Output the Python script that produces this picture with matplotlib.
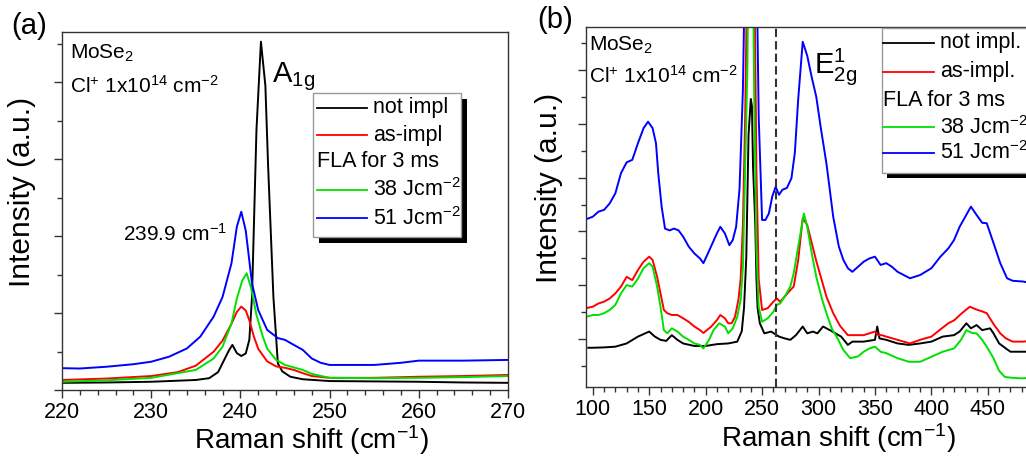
import numpy as np
import matplotlib
matplotlib.use('Agg')
import matplotlib.pyplot as plt
from matplotlib.ticker import MultipleLocator, FixedLocator
from matplotlib.patches import Rectangle

plt.rcParams['font.family'] = ['Liberation Sans', 'DejaVu Sans']
plt.rcParams['mathtext.fontset'] = 'custom'
plt.rcParams['mathtext.rm'] = 'Liberation Sans'
plt.rcParams['mathtext.it'] = 'Liberation Sans:italic'
plt.rcParams['mathtext.default'] = 'regular'

###Datos panel (a): pico A1g
xa_k = [220, 225, 230, 235, 236.5, 237.5, 238.2, 238.7, 239.1, 239.6, 240.1, 240.6, 241.0, 241.3,
        241.8, 242.3, 242.8, 243.1, 243.7, 244.2, 244.7, 245.6, 247, 250, 255, 260, 265, 270]
ya_k = [2.0, 2.1, 2.3, 2.8, 3.3, 5.0, 8.5, 11.0, 12.6, 10.3, 9.5, 10.2, 14, 26,
        72.6, 97.3, 85, 63, 26, 7.4, 5.2, 3.7, 3.0, 2.5, 2.4, 2.3, 2.1, 2.0]

xa_r = [220, 225, 230, 233, 235, 237, 238, 239, 239.6, 240.1, 240.6, 241.0, 241.5, 242, 243,
        244, 245, 246, 247, 248, 250, 255, 260, 265, 270]
ya_r = [2.8, 3.2, 3.9, 5.0, 6.8, 10.7, 13.8, 18.5, 21.8, 23.3, 22.2, 19.5, 15.0, 11.5, 8.0,
        6.6, 6.2, 5.6, 4.7, 3.9, 3.4, 3.4, 3.7, 3.9, 4.2]

xa_g = [220, 225, 230, 235, 237, 238, 239, 239.6, 240.2, 240.7, 241.2, 241.8, 242.5, 243,
        244, 245, 246, 247, 248, 250, 255, 260, 265, 270]
ya_g = [2.3, 2.7, 3.4, 5.6, 8.8, 12.1, 18.6, 25.5, 30.5, 32.6, 28.5, 21.0, 15.0, 11.6,
        8.4, 7.0, 6.3, 5.6, 4.5, 3.4, 3.3, 3.4, 3.6, 3.9]

xa_b = [220, 222, 225, 228, 230, 232, 234, 235.5, 237, 238, 239, 239.6, 240.1, 240.6, 241.3,
        242, 243, 244.2, 245, 245.7, 247, 248, 249, 250, 255, 258, 260, 265, 270]
ya_b = [6.1, 6.0, 6.5, 7.2, 7.9, 9.3, 11.6, 14.9, 20.5, 26.0, 35.4, 45.6, 49.8, 44.5, 29.8,
        22.3, 16.8, 14.5, 14.0, 13.0, 11.2, 8.8, 7.6, 7.0, 7.0, 7.6, 8.2, 8.2, 8.4]

###Datos panel (b): espectro completo
xb_k = [96, 100, 110, 120, 130, 140, 150, 155, 160, 165, 170, 175, 180, 190, 200, 210, 220, 228,
        232, 234, 236, 238, 240, 241, 242, 244, 245, 246, 248, 252, 258, 265, 270, 275, 280, 286,
        290, 295, 299, 304, 310, 315, 320, 326, 330, 340, 350, 352, 354, 360, 370, 380, 390, 400,
        410, 420, 425, 431, 435, 440, 445, 452, 455, 460, 466, 470, 481, 490]
yb_k = [10.9, 10.9, 11.0, 11.2, 12.1, 14.0, 15.4, 14.0, 13.1, 12.8, 14.4, 13.1, 12.1, 11.4, 11.4,
        11.9, 12.1, 12.6, 15.5, 22, 36, 70, 80, 78, 61, 45, 30, 22, 17.7, 14.9, 15.4, 14.0, 13.5,
        13.1, 14.4, 16.8, 14.9, 15.4, 14.9, 16.8, 15.8, 14.9, 14.0, 11.7, 12.6, 12.6, 13.1, 16.8,
        13.5, 13.1, 12.1, 11.7, 12.1, 12.6, 14.0, 14.4, 15.4, 17.7, 16.3, 17.2, 15.8, 16.3, 14.9,
        12.1, 10.7, 9.8, 9.8, 9.8]

xb_r = [94, 100, 105, 110, 115, 120, 125, 130, 135, 140, 145, 150, 153, 157, 160, 163, 166, 170,
        175, 180, 185, 190, 195, 198, 205, 210, 213, 217, 220, 223, 226, 229, 231, 233, 235, 237,
        239, 241, 243, 245, 247, 250, 255, 260, 263, 266, 270, 275, 278, 282, 286, 290, 294, 298,
        303, 307, 313, 319, 326, 330, 340, 350, 353, 356, 360, 370, 381, 390, 400, 408, 415, 420,
        427, 434, 440, 445, 449, 455, 461, 466, 472, 481, 490]
yb_r = [21.9, 22.3, 23.2, 23.7, 24.6, 26.0, 27.9, 30.6, 29.7, 32.5, 34.8, 36.2, 35.3, 30.6, 26.0,
        21.4, 20.5, 20.0, 20.0, 19.1, 18.1, 16.8, 15.8, 15.0, 16.8, 18.6, 20.0, 19.1, 17.7, 17.7,
        19.5, 24.2, 30, 45, 75, 120, 150, 150, 120, 60, 30, 21.4, 21.9, 23.7, 24.6, 23.7, 25.1,
        26.9, 27.9, 35.3, 46.9, 45.0, 40.0, 35.0, 29.5, 25.1, 20.5, 17.0, 14.4, 14.4, 14.4, 15.4,
        14.4, 14.4, 14.0, 13.1, 12.1, 13.1, 14.0, 16.0, 17.7, 18.5, 20.5, 22.3, 21.5, 21.0, 20.5,
        17.5, 14.9, 13.5, 12.6, 12.6, 12.8]

xb_g = [94, 100, 105, 110, 115, 120, 125, 130, 135, 140, 145, 150, 153, 157, 160, 163, 166, 170,
        175, 180, 185, 190, 195, 198, 203, 207, 212, 217, 220, 224, 228, 231, 233, 235, 237, 239,
        241, 243, 245, 247, 250, 255, 260, 263, 266, 270, 275, 278, 282, 287, 290, 294, 298, 303,
        307, 312, 316, 322, 328, 335, 340, 345, 350, 355, 360, 370, 380, 390, 400, 410, 420, 426,
        431, 436, 440, 445, 449, 455, 460, 465, 470, 480, 490]
yb_g = [19.5, 20.0, 20.0, 20.5, 21.4, 22.8, 26.0, 28.3, 27.9, 30.1, 33.0, 34.4, 33.4, 27.9, 22.3,
        15.8, 14.9, 16.3, 15.4, 14.0, 13.1, 12.1, 11.7, 10.7, 13.1, 15.8, 17.7, 16.8, 14.9, 16.3,
        19.5, 24.2, 33.4, 61, 89, 150, 150, 80, 38, 22.3, 18.1, 19.1, 20.9, 22.8, 23.2, 25.1, 27.9,
        31.6, 39.0, 48.2, 44.5, 37.1, 30.6, 24.5, 20.5, 16.0, 14.0, 10.3, 8.0, 8.5, 9.8, 10.7, 11.2,
        9.8, 9.4, 8.0, 7.0, 7.0, 8.4, 9.8, 10.7, 13.0, 15.8, 15.0, 14.9, 13.1, 11.2, 8.0, 4.5, 2.8,
        2.6, 2.4, 2.6]

xb_b = [94, 100, 105, 110, 115, 120, 125, 130, 135, 140, 145, 149, 153, 156, 158, 161, 164, 168,
        172, 176, 180, 185, 190, 195, 198, 202, 206, 210, 213, 217, 221, 224, 227, 230, 233, 235,
        237, 243, 245, 247, 250, 253, 256, 259, 262, 265, 268, 272, 276, 279, 282, 286, 290, 294,
        298, 302, 307, 313, 318, 322, 326, 330, 335, 340, 345, 350, 355, 360, 365, 370, 381, 390,
        400, 408, 415, 420, 425, 430, 435, 440, 445, 449, 455, 461, 467, 472, 481, 490]
yb_b = [46.6, 47.3, 48.7, 49.2, 51.0, 53.8, 59.4, 62.4, 63.1, 67.7, 71.9, 73.7, 71.9, 67.7, 59.4,
        50.1, 44.0, 43.5, 44.0, 43.5, 41.8, 39.0, 37.1, 35.7, 34.4, 37.1, 39.9, 42.7, 44.5, 42.7,
        39.4, 40.8, 44.5, 55.0, 82.5, 120, 150, 150, 120, 75, 46.4, 46.4, 48.2, 52.9, 55.6, 53.4,
        54.8, 55.3, 58.0, 65.0, 80.0, 95.9, 92.0, 86.0, 80.6, 72.0, 62.1, 47.3, 39.0, 35.3, 33.0,
        32.0, 33.4, 34.8, 35.7, 36.2, 33.9, 34.4, 33.4, 32.0, 30.2, 31.1, 33.0, 36.2, 38.5, 40.8,
        44.5, 47.3, 50.1, 47.8, 45.6, 45.5, 40.0, 34.4, 30.2, 29.5, 29.3, 28.8]

labels_a = ['not impl', 'as-impl', '38 Jcm$^{-2}$', '51 Jcm$^{-2}$']
labels_b = ['not impl.', 'as-impl.', '38 Jcm$^{-2}$', '51 Jcm$^{-2}$']
colores = ['black', '#ff0000', '#00e000', '#0000ff']
e2g_pos = 262


def leyenda(ax, x0, x1, ytop, ybot, filas, lx0, lx1, tx, labels, sh):
    #caja con sombra negra, como en Origin
    ax.add_patch(Rectangle((x0 + sh[0], ybot - sh[1]), x1 - x0, ytop - ybot, transform=ax.transAxes,
                           facecolor='black', edgecolor='none', clip_on=False, zorder=5))
    ax.add_patch(Rectangle((x0, ybot), x1 - x0, ytop - ybot, transform=ax.transAxes,
                           facecolor='white', edgecolor='#9a9a9a', lw=1.0, clip_on=False, zorder=6))
    lineas = [0, 1, 3, 4]
    for n in range(0, 4, 1):
        y = filas[lineas[n]]
        ax.plot([lx0, lx1], [y, y], color=colores[n], lw=1.3, transform=ax.transAxes,
                clip_on=False, zorder=7)
        ax.text(tx, y, labels[n], transform=ax.transAxes, fontsize=15.5, va='center',
                ha='left', zorder=7)
    ax.text(lx0, filas[2], 'FLA for 3 ms', transform=ax.transAxes, fontsize=15.5, va='center',
            ha='left', zorder=7)


fig = plt.figure(figsize=(10.26, 4.59), dpi=100)

###Panel (a)
ax1 = fig.add_axes([62/1026, 69/459, 446/1026, 358/459])
for xs, ys, c in zip([xa_k, xa_r, xa_g, xa_b], [ya_k, ya_r, ya_g, ya_b], colores):
    ax1.plot(xs, ys, color=c, lw=1.4)
ax1.set_xlim(220, 270)
ax1.set_ylim(0, 100)
ax1.xaxis.set_major_locator(MultipleLocator(10))
ax1.xaxis.set_minor_locator(MultipleLocator(2))
ax1.yaxis.set_major_locator(MultipleLocator(21.5))
ax1.yaxis.set_minor_locator(MultipleLocator(10.75))
ax1.set_yticklabels([])
ax1.set_xlabel('Raman shift (cm$^{-1}$)', fontsize=20)
ax1.xaxis.set_label_coords(0.56, -0.093)
ax1.set_ylabel('Intensity (a.u.)', fontsize=21.5)
ax1.yaxis.set_label_coords(-0.058, 0.553)
ax1.text(0.018, 0.94, 'MoSe$_2$', transform=ax1.transAxes, fontsize=15, va='center')
ax1.text(0.018, 0.85, 'Cl$^{+}$ 1x10$^{14}$ cm$^{-2}$', transform=ax1.transAxes, fontsize=15,
         va='center')
ax1.text(0.47, 0.875, 'A$_{1g}$', transform=ax1.transAxes, fontsize=21, va='center')
ax1.text(0.137, 0.435, '239.9 cm$^{-1}$', transform=ax1.transAxes, fontsize=15, va='center')
leyenda(ax1, 0.563, 0.895, 0.830, 0.427, [0.788, 0.712, 0.637, 0.559, 0.480],
        0.572, 0.684, 0.697, labels_a, (0.013, 0.017))
fig.text(11/1026, 1 - 26/459, '(a)', fontsize=21, va='center')

###Panel (b)
ax2 = fig.add_axes([586/1026, 72/459, 447/1026, 360/459])
for xs, ys, c in zip([xb_k, xb_r, xb_g, xb_b], [yb_k, yb_r, yb_g, yb_b], colores):
    ax2.plot(xs, ys, color=c, lw=1.4)
ax2.axvline(e2g_pos, color='#333333', ls=(0, (4, 2)), lw=1.5)
ax2.set_xlim(94, 490)
ax2.set_ylim(0, 100)
ax2.xaxis.set_major_locator(MultipleLocator(50))
ax2.xaxis.set_minor_locator(MultipleLocator(10))
ax2.yaxis.set_major_locator(FixedLocator(np.arange(13.3, 100, 14.95)))
ax2.yaxis.set_minor_locator(FixedLocator(np.arange(5.8, 100, 14.95)))
ax2.set_yticklabels([])
ax2.set_xlabel('Raman shift (cm$^{-1}$)', fontsize=20)
ax2.xaxis.set_label_coords(0.564, -0.095)
ax2.set_ylabel('Intensity (a.u.)', fontsize=21.5)
ax2.yaxis.set_label_coords(-0.051, 0.553)
ax2.text(0.006, 0.95, 'MoSe$_2$', transform=ax2.transAxes, fontsize=15, va='center')
ax2.text(0.006, 0.865, 'Cl$^{+}$ 1x10$^{14}$ cm$^{-2}$', transform=ax2.transAxes, fontsize=15,
         va='center')
ax2.text(0.511, 0.89, r'E$^{1}_{2g}$', transform=ax2.transAxes, fontsize=21, va='center')
leyenda(ax2, 0.662, 1.2, 0.997, 0.594, [0.956, 0.875, 0.797, 0.722, 0.650],
        0.664, 0.779, 0.792, labels_b, (0.011, 0.014))
fig.text(537/1026, 1 - 20/459, '(b)', fontsize=21, va='center')

for ax in [ax1, ax2]:
    for s in ax.spines.values():
        s.set_color('#333333')
        s.set_linewidth(1.0)
    ax.tick_params(axis='both', which='major', direction='out', length=6, width=1.0,
                   labelsize=15.5, color='#333333', pad=2.5)
    ax.tick_params(axis='both', which='minor', direction='out', length=3.5, width=1.0,
                   color='#333333')

fig.savefig('out.png', dpi=100)
